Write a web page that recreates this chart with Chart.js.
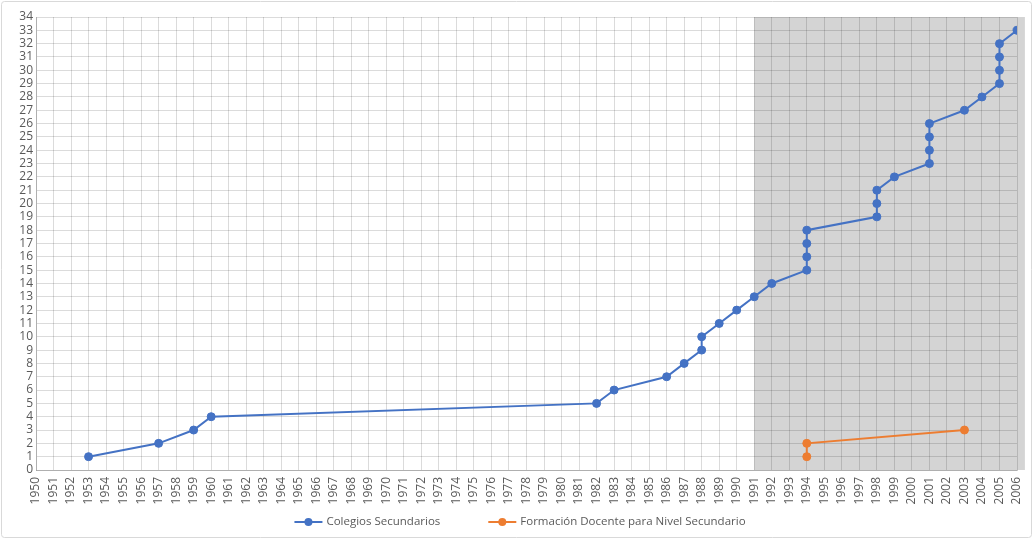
<!DOCTYPE html>
<html lang="es">
<head>
<meta charset="utf-8">
<title>Colegios Secundarios</title>
<script src="https://cdn.jsdelivr.net/npm/chart.js@4/dist/chart.umd.min.js"></script>
<style>
  html, body { margin: 0; padding: 0; background: #fff; }
  #wrap { width: 1034px; height: 539px; position: relative; }
</style>
</head>
<body>
<div id="wrap"><canvas id="chart"></canvas></div>
<script>
/* global Chart */
(function init() {
  // data
  const colegiosYears = [
    1953, 1957, 1959, 1960, 1982, 1983, 1986, 1987, 1988, 1988, 1989, 1990,
    1991, 1992, 1994, 1994, 1994, 1994, 1998, 1998, 1998, 1999, 2001, 2001,
    2001, 2001, 2003, 2004, 2005, 2005, 2005, 2005, 2006,
  ];
  const colegiosCount = [
    1, 2, 3, 4, 5, 6, 7, 8, 9, 10, 11, 12,
    13, 14, 15, 16, 17, 18, 19, 20, 21, 22, 23, 24,
    25, 26, 27, 28, 29, 30, 31, 32, 33,
  ];
  const formacionYears = [1994, 1994, 2003];
  const formacionCount = [1, 2, 3];

  const seriesLabels = [
    'Colegios Secundarios',
    'Formación Docente para Nivel Secundario',
  ];
  const yearRange = [1950, 2006];
  const countRange = [0, 34];
  // shaded period on the x axis
  const shadedRange = [1991, 2006.45];

  const BLUE = '#4472C4';
  const ORANGE = '#ED7D31';
  const TEXT = '#595959';
  const FONT = '"Open Sans", "Noto Sans", sans-serif';

  function toPoints(xs, ys) {
    return xs.map((x, i) => ({ x, y: ys[i] }));
  }

  function lineDataset(label, data, color) {
    return {
      label,
      data,
      borderColor: color,
      backgroundColor: color,
      pointBackgroundColor: color,
      pointBorderColor: color,
      borderWidth: 2,
      pointRadius: 4,
      pointBorderWidth: 1,
      tension: 0,
    };
  }

  const backdrop = {
    id: 'backdrop',
    beforeDraw(chart) {
      const { ctx, scales } = chart;
      ctx.save();
      ctx.fillStyle = '#ffffff';
      ctx.fillRect(0, 0, chart.width, chart.height);
      ctx.strokeStyle = '#d9d9d9';
      ctx.lineWidth = 1;
      ctx.beginPath();
      ctx.roundRect(1.5, 1.5, chart.width - 4, chart.height - 3, 3);
      ctx.stroke();

      const x0 = scales.x.getPixelForValue(shadedRange[0]);
      const x1 = scales.x.getPixelForValue(shadedRange[1]);
      const y0 = scales.y.getPixelForValue(countRange[1]);
      const y1 = scales.y.getPixelForValue(countRange[0]);
      ctx.fillStyle = '#d4d4d4';
      ctx.fillRect(x0, y0, x1 - x0, y1 - y0);
      ctx.restore();
    },
  };

  const lineLegend = {
    id: 'lineLegend',
    afterDraw(chart) {
      const { ctx } = chart;
      const marker = 28;
      const gap = 4;
      const spacing = 48;
      const y = 522;
      ctx.save();
      ctx.font = '11.5px ' + FONT;
      ctx.textBaseline = 'middle';
      const items = chart.data.datasets.map((ds) => ({
        ds,
        w: marker + gap + ctx.measureText(ds.label).width,
      }));
      const total =
        items.reduce((s, it) => s + it.w, 0) + spacing * (items.length - 1);
      let x = chart.width / 2 + 3 - total / 2;
      items.forEach(({ ds, w }) => {
        ctx.strokeStyle = ds.borderColor;
        ctx.lineWidth = 2;
        ctx.beginPath();
        ctx.moveTo(x, y);
        ctx.lineTo(x + marker, y);
        ctx.stroke();
        ctx.fillStyle = ds.borderColor;
        ctx.beginPath();
        ctx.arc(x + marker / 2, y, 4, 0, Math.PI * 2);
        ctx.fill();
        ctx.fillStyle = TEXT;
        ctx.fillText(ds.label, x + marker + gap, y);
        x += w + spacing;
      });
      ctx.restore();
    },
  };

  const gridColor = 'rgba(0, 0, 0, 0.14)';

  new Chart(document.getElementById('chart'), {
    type: 'line',
    data: {
      datasets: [
        lineDataset(seriesLabels[0], toPoints(colegiosYears, colegiosCount), BLUE),
        lineDataset(seriesLabels[1], toPoints(formacionYears, formacionCount), ORANGE),
      ],
    },
    options: {
      responsive: true,
      maintainAspectRatio: false,
      animation: false,
      layout: { padding: { left: 0, top: 17, right: 17, bottom: 27 } },
      plugins: {
        legend: { display: false },
        tooltip: { enabled: false },
      },
      scales: {
        x: {
          type: 'linear',
          min: yearRange[0],
          max: yearRange[1],
          grid: { color: gridColor, drawTicks: false },
          border: { color: 'rgba(0, 0, 0, 0.2)' },
          ticks: {
            stepSize: 1,
            autoSkip: false,
            maxRotation: 90,
            minRotation: 90,
            padding: 7,
            color: TEXT,
            font: { family: FONT, size: 12 },
            callback: (v) => String(v),
          },
          afterFit(scale) {
            scale.height = 42;
            scale.paddingLeft = 0;
            scale.paddingRight = 0;
          },
        },
        y: {
          min: countRange[0],
          max: countRange[1],
          grid: { color: gridColor, drawTicks: false },
          border: { color: 'rgba(0, 0, 0, 0.2)' },
          ticks: {
            stepSize: 1,
            autoSkip: false,
            padding: 3,
            color: TEXT,
            font: { family: FONT, size: 12 },
          },
          afterFit(scale) {
            scale.width = 36;
            scale.paddingTop = 0;
            scale.paddingBottom = 0;
          },
        },
      },
    },
    plugins: [backdrop, lineLegend],
  });
})();
</script>
</body>
</html>
